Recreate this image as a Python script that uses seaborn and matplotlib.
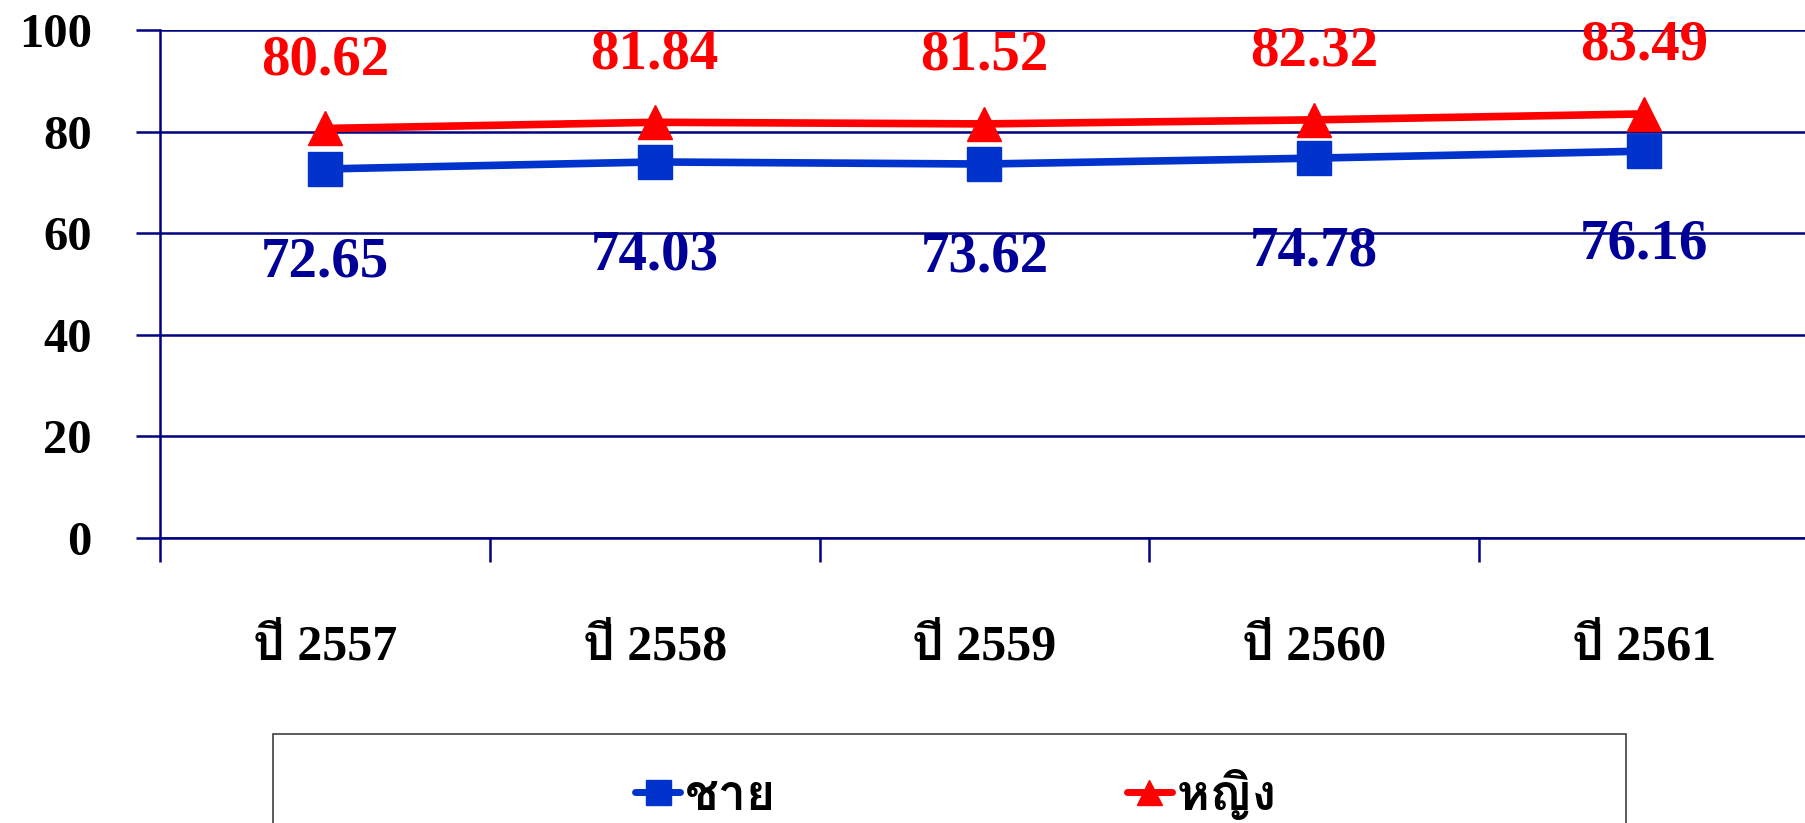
import numpy as np
import pandas as pd
import matplotlib
matplotlib.use("Agg")
import matplotlib.pyplot as plt
import seaborn as sns
from matplotlib import font_manager
from matplotlib.ft2font import FT2Font
from matplotlib.patches import Rectangle

# data
years = ["ปี 2557", "ปี 2558", "ปี 2559", "ปี 2560", "ปี 2561"]
male = [72.65, 74.03, 73.62, 74.78, 76.16]
female = [80.62, 81.84, 81.52, 82.32, 83.49]
series_names = ["ชาย", "หญิง"]

# look for a font that has thai glyphs
thai_font = None
for f in font_manager.fontManager.ttflist:
    try:
        if 0x0E0A in FT2Font(f.fname).get_charmap():
            thai_font = f.name
            break
    except Exception:
        pass
fams = ["Liberation Serif"] + ([thai_font] if thai_font else []) + ["DejaVu Sans"]

sns.set_style("white")
plt.rcParams["font.family"] = fams
plt.rcParams["font.weight"] = "bold"
plt.rcParams["text.color"] = "black"
plt.rcParams["xtick.labelcolor"] = "black"
plt.rcParams["ytick.labelcolor"] = "black"

df = pd.DataFrame({
    "year": years * 2,
    "value": male + female,
    "sex": [series_names[0]] * len(years) + [series_names[1]] * len(years),
})

navy = "#000080"
colors = {"ชาย": "#0033CC", "หญิง": "#FF0000"}
label_colors = {"ชาย": "#000099", "หญิง": "#FF0000"}

fig = plt.figure(figsize=(18.06, 8.23), dpi=100)
ax = fig.add_axes([0.0886, 0.3463, 0.913, 0.6172])

sns.lineplot(data=df, x="year", y="value", hue="sex", style="sex",
             hue_order=series_names, style_order=series_names,
             palette=colors, markers={"ชาย": "s", "หญิง": "^"}, dashes=False,
             linewidth=5.5, markersize=25, legend=False, ax=ax)
for ln in ax.lines:
    ln.set_markeredgecolor(ln.get_color())
    ln.set_markeredgewidth(1)

# value labels
for i, v in enumerate(female):
    ax.annotate(f"{v:.2f}", (i, v), xytext=(0, 49), textcoords="offset points",
                ha="center", va="center", fontsize=41, fontweight="bold",
                color=label_colors["หญิง"])
for i, v in enumerate(male):
    ax.annotate(f"{v:.2f}", (i, v), xytext=(0, -67), textcoords="offset points",
                ha="center", va="center", fontsize=41, fontweight="bold",
                color=label_colors["ชาย"])

ax.set_xlim(-0.5, 4.5)
ax.set_ylim(0, 100)
ax.set_yticks(np.arange(0, 101, 20))
ax.yaxis.grid(True, color=navy, linewidth=1.8)
ax.set_axisbelow(True)
ax.set_xlabel("")
ax.set_ylabel("")

for s in ["top", "right"]:
    ax.spines[s].set_visible(False)
for s in ["left", "bottom"]:
    ax.spines[s].set_color(navy)
    ax.spines[s].set_linewidth(1.8)

ax.set_xticks(range(len(years)))
ax.set_xticklabels(years)
ax.set_xticks(np.arange(-0.5, 5, 1), minor=True)
ax.tick_params(axis="x", which="major", bottom=True, length=0, pad=62, labelsize=36, labelcolor="black")
ax.tick_params(axis="x", which="minor", bottom=True, length=17, width=1.8, color=navy, direction="out")
ax.tick_params(axis="y", which="major", left=True, length=17, width=1.8, color=navy,
               direction="out", pad=32, labelsize=35, labelcolor="black")
for t in ax.get_xticklabels() + ax.get_yticklabels():
    t.set_fontweight("bold")

# legend box
fig.patches.append(Rectangle((273 / 1806, -0.05), (1626 - 273) / 1806, 0.05 + (823 - 734) / 823,
                             transform=fig.transFigure, facecolor="white",
                             edgecolor="#404040", linewidth=1.2))
leg = fig.legend(ax.lines[:2], series_names, loc="center", ncol=2,
                 bbox_to_anchor=(956 / 1806, 1 - 795 / 823), frameon=False,
                 handlelength=0.9, handletextpad=0.1,
                 columnspacing=7, prop={"size": 36, "weight": "bold"})
for ln in leg.get_lines():
    ln.set_markersize(18)
    ln.set_linewidth(5)
for t in leg.get_texts():
    t.set_color("black")

fig.savefig("out.png", dpi=100)
